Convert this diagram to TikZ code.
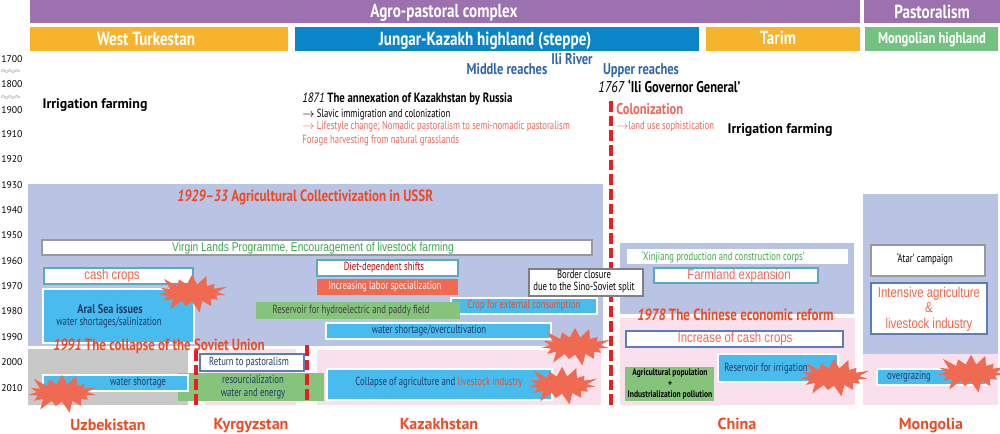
\documentclass[tikz,border=0pt]{standalone}
\usepackage{fontspec}
\usetikzlibrary{shapes.symbols,decorations.pathmorphing}
\setmainfont{PT Sans}
\newfontfamily\cond[FakeStretch=0.8]{PT Sans}
\newfontfamily\condn[FakeStretch=0.74]{PT Sans}
\newfontfamily\arialn[FakeStretch=0.8]{Liberation Sans}
\definecolor{purplebar}{HTML}{9B72AF}
\definecolor{orangebar}{HTML}{F6B32B}
\definecolor{bluebar}{HTML}{0B85C9}
\definecolor{greenbar}{HTML}{74C182}
\definecolor{lavender}{HTML}{B9C3E3}
\definecolor{pinkarea}{HTML}{FAE0EC}
\definecolor{greyarea}{HTML}{C8C8C8}
\definecolor{waterblue}{HTML}{48BCEE}
\definecolor{leafgreen}{HTML}{85C47A}
\definecolor{tealline}{HTML}{5AA9C0}
\definecolor{navyline}{HTML}{5B7DB8}
\definecolor{redtitle}{HTML}{EE4A24}
\definecolor{salmon}{HTML}{F0675A}
\definecolor{burstred}{HTML}{EF6A50}
\definecolor{borderred}{HTML}{ED1C24}
\definecolor{navytext}{HTML}{1F3A68}
\definecolor{rivertext}{HTML}{2E64B0}
\definecolor{virgin}{HTML}{3DA84A}
\tikzset{
  head/.style={text=white,font=\cond\bfseries\fontsize{14.2}{14}\selectfont},
  year/.style={font=\fontsize{7.3}{8}\selectfont,text=black,anchor=west,inner sep=0pt},
  small/.style={font=\condn\fontsize{8.8}{9.6}\selectfont,align=center,inner sep=0pt},
  title/.style={font=\cond\bfseries\fontsize{12.2}{12}\selectfont,text=redtitle,inner sep=0pt},
  river/.style={font=\cond\bfseries\fontsize{11.7}{12}\selectfont,text=rivertext,inner sep=0pt},
  nation/.style={font=\bfseries\fontsize{12}{12}\selectfont,text=redtitle,inner sep=0pt},
  irrig/.style={font=\bfseries\fontsize{10.4}{10}\selectfont,inner sep=0pt},
  wide/.style={font=\arialn\fontsize{10.7}{11.6}\selectfont,inner sep=0pt,align=center},
  water/.style={fill=waterblue,draw=white,line width=0.8pt},
  whitebox/.style={fill=white,line width=1.6pt},
  burst/.style={shape=starburst,fill=burstred,draw=none,starburst points=15,starburst point height=10pt,inner sep=0pt,minimum width=58pt,minimum height=33pt},
  border/.style={draw=borderred,line width=2.8pt,dash pattern=on 8pt off 3pt},
  wave/.style={draw=gray!70,line width=0.3pt,decorate,decoration={snake,segment length=5pt,amplitude=0.7pt}}
}
\begin{document}
\begin{tikzpicture}[x=0.75pt,y=-0.75pt]
\useasboundingbox (0,0) rectangle (1000,433);

% bars
\fill[purplebar] (30,0) rectangle (860,23);
\fill[purplebar] (864,0) rectangle (1000,23);
\fill[orangebar] (30,27) rectangle (288,51);
\fill[bluebar] (295,27) rectangle (699,51);
\fill[orangebar] (706,27) rectangle (860,51);
\fill[greenbar] (865,27) rectangle (998,51);
\node[head] (agro) at (444,12.5) {Agro-pastoral complex};
\node[head] (past) at (932,12) {Pastoralism};
\node[head] (west) at (146,39) {West Turkestan};
\node[head] (jungar) at (485,40.5) {Jungar-Kazakh highland (steppe)};
\node[head] (tarim) at (778,38) {Tarim};
\node[head,font=\cond\bfseries\fontsize{11.8}{11}\selectfont] (mongh) at (932,40) {Mongolian highland};

% years
\foreach \yr/\y in {1700/59,1800/84.5,1900/110,1910/134,1920/159,1930/185,1940/210,1950/235,1960/261,1970/286,1980/311,1990/337,2000/362,2010/388}{
\node[year] (yr\yr) at (1,\y) {\yr};
}
\foreach \y in {71,97}{
\draw[wave] (1,\y-0.7) -- (20,\y-0.7);
\draw[wave] (1,\y+0.7) -- (20,\y+0.7);
}

% areas
\fill[lavender] (28,184) rectangle (603,346);
\fill[greyarea] (28,349) rectangle (188,405);
\fill[pinkarea] (205,349) rectangle (296,405);
\fill[pinkarea] (317,350) rectangle (601,405);
\fill[lavender] (620,243) rectangle (854,314);
\fill[pinkarea] (620,318) rectangle (855,405);
\fill[lavender] (863,194) rectangle (998,354);
\fill[pinkarea] (863,354) rectangle (998,405);

% upper texts
\node[irrig] (irrw) at (95,105) {Irrigation farming};
\node[irrig] (irre) at (780,130) {Irrigation farming};
\node[river] (ili) at (572,59) {Ili River};
\node[river] (middle) at (507,69) {Middle reaches};
\node[river] (upper) at (641,70.5) {Upper reaches};
\node[title,text=black,font=\cond\bfseries\fontsize{11.7}{12}\selectfont,anchor=west] (ili67) at (598,86) {\textit{\mdseries 1767} ‘Ili Governor General’};
\node[title,text=black,font=\cond\bfseries\fontsize{10.1}{11}\selectfont,anchor=west] (annex) at (302,99) {\textit{\mdseries 1871} The annexation of Kazakhstan by Russia};
\node[small,anchor=west] (slavic) at (302,115) {$\rightarrow$ Slavic immigration and colonization};
\node[small,anchor=west,text=salmon] (life) at (302,127) {$\rightarrow$ Lifestyle change; Nomadic pastoralism to semi-nomadic pastoralism};
\node[small,anchor=west,text=salmon] (forage) at (302,141) {Forage harvesting from natural grasslands};
\node[title,text=salmon,font=\cond\bfseries\fontsize{11.7}{12}\selectfont,anchor=west] (colon) at (616,109.5) {Colonization};
\node[small,anchor=west,text=salmon] (landuse) at (616,127) {$\rightarrow$land use sophistication};

% west side
\draw[whitebox,draw=gray!80] (42,240) rectangle (592,255);
\node[wide,font=\arialn\fontsize{9.6}{10}\selectfont,text=virgin] (virginl) at (313,248) {Virgin Lands Programme, Encouragement of livestock farming};
\draw[whitebox,draw=tealline] (44,268) rectangle (193,284);
\node[wide,text=redtitle!85] (cash) at (112,275.5) {cash crops};
\draw[water] (43,289) rectangle (194,343);
\node[small,text=navytext,font=\cond\bfseries\fontsize{9.6}{10}\selectfont] (aral) at (110,309) {Aral Sea issues};
\node[small,text=navytext] (aralb) at (109,323) {water shortages/salinization};
\fill[leafgreen] (178,373) rectangle (324,401);
\draw[water] (43,375) rectangle (188,391);
\node[small,text=navytext] (shortw) at (138,383) {water shortage};
\draw[whitebox,draw=navyline,line width=1pt] (200,354) rectangle (304,371);
\node[small,text=navytext] (retur) at (249,362.5) {Return to pastoralism};
\node[small,text=navytext] (resour) at (253,387) {resourcialization\\water and energy};

% kazakhstan
\draw[whitebox,draw=tealline] (317,260) rectangle (458,276);
\node[small,text=red!80!black] (diet) at (384,268) {Diet-dependent shifts};
\fill[burstred] (317,279) rectangle (458,295);
\node[small,text=white] (labor) at (385,287) {Increasing labor specialization};
\draw[water] (451,298) rectangle (597,314);
\node[small,text=redtitle] (crop) at (524,305) {Crop for external consumption};
\fill[leafgreen] (256,302) rectangle (460,319);
\node[small,text=black!75] (reserv) at (351,311) {Reservoir for hydroelectric and paddy field};
\draw[water] (326,323) rectangle (551,339);
\node[small,text=navytext] (overc) at (429,331) {water shortage/overcultivation};
\draw[water] (327,369) rectangle (552,400);
\node[small] (coll) at (439,383) {\textcolor{navytext}{Collapse of agriculture and} \textcolor{redtitle}{livestock industry}};

% borders
\draw[border] (611,101) -- (611,408);
\draw[border] (196,350) -- (196,407);
\draw[border] (307,345) -- (307,401);
\draw[whitebox,draw=gray,line width=0.8pt] (529,269) rectangle (643,296);
\node[small,text=black] (closure) at (584,281.5) {Border closure\\due to the Sino-Soviet split};

% china
\fill[white] (627,249) rectangle (848,264);
\node[small,text=virgin] (xinj) at (723,257) {‘Xinjiang production and construction corps’};
\draw[whitebox,draw=tealline] (654,268) rectangle (818,283);
\node[wide,text=salmon] (farm) at (739,275.5) {Farmland expansion};
\draw[whitebox,draw=navyline,line width=1pt] (626,331) rectangle (843,347);
\node[wide,text=salmon] (incr) at (735,339) {Increase of cash crops};
\draw[water] (718,354) rectangle (838,382);
\node[small,text=navytext] (resirr) at (766,369) {Reservoir for irrigation};
\fill[leafgreen] (625,367) rectangle (714,401);
\node[small,text=black,font=\cond\bfseries\fontsize{7.1}{8.2}\selectfont] (agpop) at (670,384) {Agricultural population\\+\\Industrialization pollution};

% mongolia
\draw[whitebox,draw=gray!80,line width=0.9pt] (871,245) rectangle (985,276);
\node[small,text=black] (atar) at (925,259) {‘Atar’ campaign};
\draw[whitebox,draw=navyline] (871,283) rectangle (987,334);
\node[wide,text=redtitle!85] (inten) at (929,309) {Intensive agriculture\\\&\\livestock industry};
\draw[water] (877,369) rectangle (986,385);
\node[small,text=navytext] (overg) at (909,377) {overgrazing};

% bursts
\node[burst] (burstA) at (192,293) {};
\node[burst] (burstB) at (62,393) {};
\node[burst] (burstC) at (575,346) {};
\node[burst] (burstD) at (562,385) {};
\node[burst] (burstE) at (834,377) {};
\node[burst] (burstF) at (971,373) {};

% titles
\node[title,anchor=west] (sovcoll) at (177,197) {\textit{1929–33} Agricultural Collectivization in USSR};
\node[title,anchor=west] (sovend) at (53,346) {\textit{1991} The collapse of the Soviet Union};
\node[title,anchor=west] (reform) at (637,315) {\textit{1978} The Chinese economic reform};

% countries
\node[nation] (uzb) at (108,425) {Uzbekistan};
\node[nation] (kyr) at (251,425.5) {Kyrgyzstan};
\node[nation] (kaz) at (439,424) {Kazakhstan};
\node[nation] (chn) at (737,424) {China};
\node[nation] (mng) at (931,425) {Mongolia};
\end{tikzpicture}
\end{document}
